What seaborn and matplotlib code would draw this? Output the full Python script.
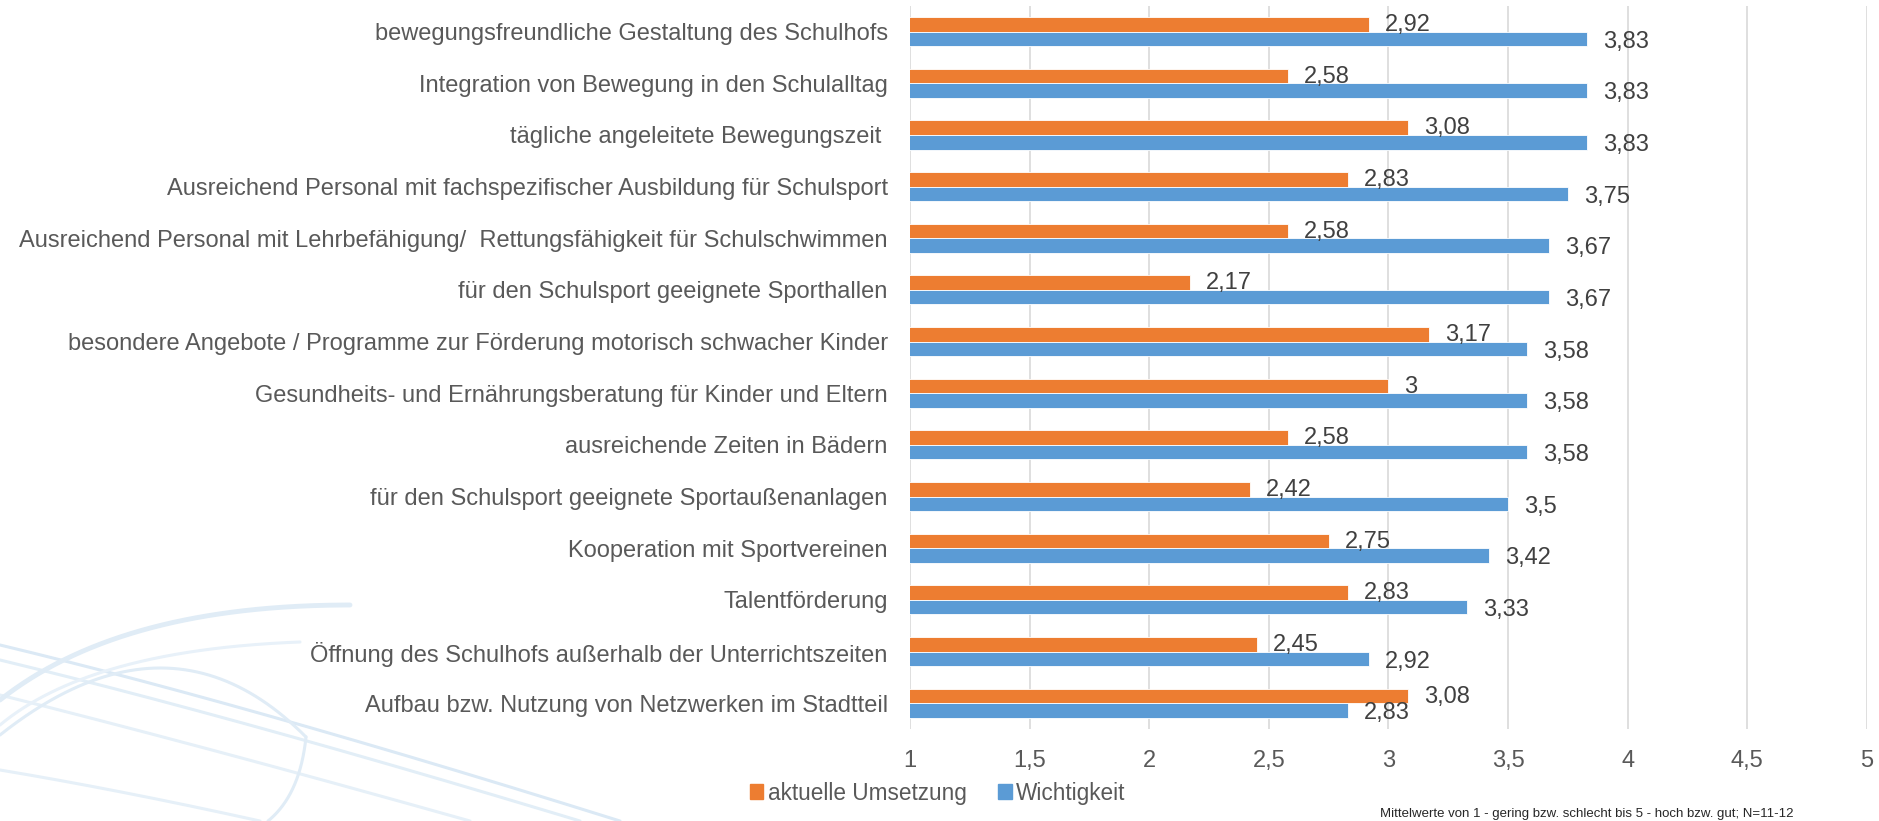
import numpy as np
import pandas as pd
import matplotlib
matplotlib.use("Agg")
import matplotlib.pyplot as plt
import seaborn as sns
from matplotlib.lines import Line2D
from matplotlib.ticker import FuncFormatter

# --- data ---
kategorien = [
    "bewegungsfreundliche Gestaltung des Schulhofs",
    "Integration von Bewegung in den Schulalltag",
    "tägliche angeleitete Bewegungszeit ",
    "Ausreichend Personal mit fachspezifischer Ausbildung für Schulsport",
    "Ausreichend Personal mit Lehrbefähigung/  Rettungsfähigkeit für Schulschwimmen",
    "für den Schulsport geeignete Sporthallen",
    "besondere Angebote / Programme zur Förderung motorisch schwacher Kinder",
    "Gesundheits- und Ernährungsberatung für Kinder und Eltern",
    "ausreichende Zeiten in Bädern",
    "für den Schulsport geeignete Sportaußenanlagen",
    "Kooperation mit Sportvereinen",
    "Talentförderung",
    "Öffnung des Schulhofs außerhalb der Unterrichtszeiten",
    "Aufbau bzw. Nutzung von Netzwerken im Stadtteil",
]
umsetzung = [2.92, 2.58, 3.08, 2.83, 2.58, 2.17, 3.17, 3.0, 2.58, 2.42, 2.75, 2.83, 2.45, 3.08]
wichtigkeit = [3.83, 3.83, 3.83, 3.75, 3.67, 3.67, 3.58, 3.58, 3.58, 3.5, 3.42, 3.33, 2.92, 2.83]
serien = ["aktuelle Umsetzung", "Wichtigkeit"]
x_ticks = [1, 1.5, 2, 2.5, 3, 3.5, 4, 4.5, 5]
fussnote = "Mittelwerte von 1 - gering bzw. schlecht bis 5 - hoch bzw. gut; N=11-12"

farben = {"aktuelle Umsetzung": "#ED7D31", "Wichtigkeit": "#5B9BD5"}

df = pd.DataFrame({
    "Kategorie": kategorien * 2,
    "Wert": umsetzung + wichtigkeit,
    "Serie": [serien[0]] * len(kategorien) + [serien[1]] * len(kategorien),
})

sns.set_style("white")
plt.rcParams["font.family"] = ["Liberation Sans", "DejaVu Sans"]

W, H = 1879, 821
fig = plt.figure(figsize=(W / 100, H / 100), dpi=100)
ax = fig.add_axes([0.4843, 0.112, 0.5093, 0.881])


# faint background swirl (decoration, pixel coords from top-left)
def swirl(xs, ys, col="#dbe9f5", lw=2.2):
    fig.add_artist(Line2D(np.asarray(xs) / W, 1 - np.asarray(ys) / H,
                          transform=fig.transFigure, color=col, lw=lw, zorder=0))


def bezier(p0, p1, p2):
    t = np.linspace(0, 1, 200)[:, None]
    pts = (1 - t) ** 2 * np.array(p0) + 2 * (1 - t) * t * np.array(p1) + t ** 2 * np.array(p2)
    return pts[:, 0], pts[:, 1]


swirl(*bezier((0, 645), (250, 705), (620, 821)))
swirl(*bezier((0, 660), (240, 718), (580, 821)), col="#e2eef7")
swirl(*bezier((0, 695), (200, 745), (470, 821)), col="#e6f0f8")
swirl(*bezier((0, 770), (120, 790), (260, 821)), col="#e6f0f8")
swirl(*bezier((0, 700), (120, 605), (350, 605)), col="#e0ecf6", lw=3.5)
swirl(*bezier((0, 725), (90, 650), (300, 642)), col="#e8f1f9")
swirl(*bezier((0, 735), (170, 600), (306, 737)), col="#e0ecf6")
swirl(*bezier((306, 737), (300, 795), (268, 821)), col="#e0ecf6")

sns.barplot(data=df, x="Wert", y="Kategorie", hue="Serie", hue_order=serien,
            palette=farben, orient="h", width=0.565, saturation=1, ax=ax,
            edgecolor="white", linewidth=0.6)

ax.set_xlim(1, 5)
ax.set_xticks(x_ticks)
ax.xaxis.set_major_formatter(FuncFormatter(lambda v, p: f"{v:g}".replace(".", ",")))
ax.grid(axis="x", color="#d9d9d9", lw=1.2)
ax.set_axisbelow(True)
for s in ax.spines.values():
    s.set_visible(False)
ax.set_xlabel("")
ax.set_ylabel("")
ax.tick_params(axis="x", length=0, pad=15, labelsize=17, labelcolor="#595959")
ax.tick_params(axis="y", length=0, pad=16, labelsize=17, labelcolor="#595959")

# value labels
for cont, dy in zip(ax.containers, [-0.5, -2]):
    for bar in cont:
        w = bar.get_width()
        yc = bar.get_y() + bar.get_height() / 2
        ax.annotate(f"{w:g}".replace(".", ","), (w, yc), xytext=(11.5, dy),
                    textcoords="offset points", ha="left", va="center",
                    fontsize=17, color="#404040")

if ax.get_legend():
    ax.get_legend().remove()
leg_handles = [plt.Rectangle((0, 0), 1, 1, color=farben[s]) for s in serien]
fig.legend(leg_handles, serien, loc="center", bbox_to_anchor=(0.499, 0.034),
           ncol=2, frameon=False, fontsize=16.3, handlelength=0.6, handleheight=0.6,
           handletextpad=0.2, columnspacing=1.4, labelcolor="#595959")

fig.text(0.7345, 0.0015, fussnote, ha="left", va="bottom", fontsize=9.5, color="#262626")

fig.savefig("out.png", dpi=100)
